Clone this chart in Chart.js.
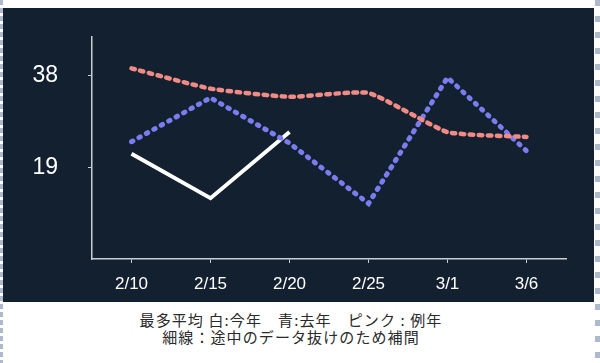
<!DOCTYPE html>
<html>
<head>
<meta charset="utf-8">
<script src="https://cdn.jsdelivr.net/npm/chart.js@4/dist/chart.umd.min.js"></script>
<style>
  html, body { margin:0; padding:0; background:#fff; width:600px; height:363px; overflow:hidden; }
  #leftDash { position:absolute; left:0; top:0; width:3px; height:363px;
    background: repeating-linear-gradient(to bottom, #aeb9d0 0 5px, transparent 5px 8px); }
  #rightDash { position:absolute; left:595px; top:0; width:5px; height:363px;
    background: repeating-linear-gradient(to bottom, #aeb9d0 0 6px, transparent 6px 16px); }
  #panel { position:absolute; left:3px; top:8px; width:591px; height:294px; background:#13202f; }
  #caption { position:absolute; left:0; top:311px; width:582px; text-align:center;
    font-family:"Noto Sans CJK JP", sans-serif; font-size:15px; line-height:17px; letter-spacing:1.1px; color:#2a2a2a; }
</style>
</head>
<body>
<div id="leftDash"></div>
<div id="rightDash"></div>
<div id="panel"><canvas id="c" width="591" height="294"></canvas></div>
<div id="caption">最多平均 白:今年　青:去年　ピンク : 例年<br>細線：途中のデータ抜けのため補間</div>
<script>
const categories = ["2/10", "2/15", "2/20", "2/25", "3/1", "3/6"];
const thisYear = [21.8, 12.6, 26.3, null, null, null];
const lastYear = [24.3, 33.4, 24.0, 11.5, 37.6, 22.4];
const normalYear = [39.5, 35.3, 33.6, 34.4, 26.3, 25.3];
const yTickValues = [19, 38];

const axisColor = "#c9ced6";

new Chart(document.getElementById("c"), {
  type: "line",
  data: {
    labels: categories,
    datasets: [
      { label: "例年", data: normalYear, borderColor: "#f28a86", borderWidth: 4.5,
        borderDash: [3.5, 5.5], borderCapStyle: "round", tension: 0.15, pointRadius: 0, fill: false },
      { label: "去年", data: lastYear, borderColor: "#7b7cf0", borderWidth: 5,
        borderDash: [1.5, 7], borderCapStyle: "round", tension: 0, pointRadius: 0, fill: false },
      { label: "今年", data: thisYear, borderColor: "#ffffff", borderWidth: 4,
        borderCapStyle: "butt", tension: 0, pointRadius: 0, fill: false }
    ]
  },
  options: {
    responsive: false,
    animation: false,
    layout: { padding: { left: 0, right: 28, top: 29, bottom: 0 } },
    plugins: { legend: { display: false }, tooltip: { enabled: false } },
    scales: {
      x: {
        offset: true,
        grid: { display: true, drawOnChartArea: false, drawTicks: true, tickLength: 4, color: axisColor, offset: false },
        border: { display: true, color: axisColor, width: 1.5 },
        ticks: { color: "#ffffff", font: { family: "Liberation Sans", size: 17 }, padding: 11 },
        afterFit: s => { s.height = 43; s.paddingLeft = 0; s.paddingRight = 0; }
      },
      y: {
        min: 0, max: 46,
        grid: { display: true, drawOnChartArea: false, drawTicks: true, tickLength: 4, color: axisColor },
        border: { display: true, color: axisColor, width: 1.5 },
        ticks: { color: "#ffffff", font: { family: "Liberation Sans", size: 23 }, padding: 30 },
        afterBuildTicks: s => { s.ticks = yTickValues.map(v => ({ value: v })); },
        afterFit: s => { s.width = 89; s.paddingTop = 0; s.paddingBottom = 0; }
      }
    }
  }
});
</script>
</body>
</html>
